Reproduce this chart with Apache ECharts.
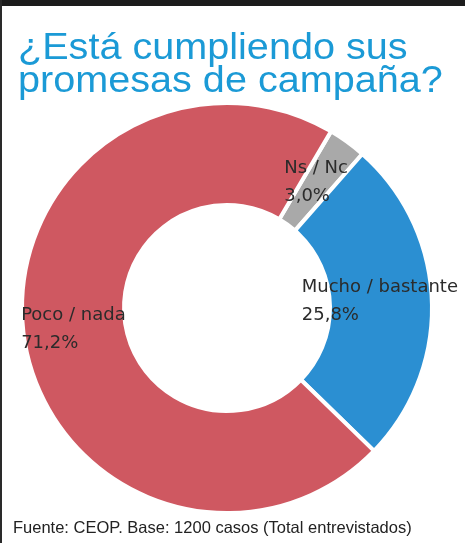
<!DOCTYPE html>
<html lang="es">
<head>
    <meta charset="utf-8">
    <script src="https://cdn.jsdelivr.net/npm/echarts@6/dist/echarts.min.js"></script>
    <style>
        html, body { margin: 0; padding: 0; background: #fff; }
        #chart { width: 470px; height: 543px; }
    </style>
</head>
<body>
<div id="chart"></div>
<script>
    // datos de la encuesta
    var categories = ['Ns / Nc', 'Mucho / bastante', 'Poco / nada'];
    var values = [3.0, 25.8, 71.2];
    var titleLines = ['¿Está cumpliendo sus', 'promesas de campaña?'];
    var sourceText = 'Fuente: CEOP. Base: 1200 casos (Total entrevistados)';

    var colors = ['#a9a9a9', '#2b8fd2', '#cf5861'];
    // pequeño ajuste de la posicion de cada etiqueta
    var labelOffsets = [[-3, 2], [-4, 0], [2, 0]];

    var pieData = [];
    for (var i = 0; i < categories.length; i++) {
        pieData.push({
            name: categories[i],
            value: values[i],
            itemStyle: { color: colors[i] },
            label: { offset: labelOffsets[i] }
        });
    }

    var chart = echarts.init(document.getElementById('chart'));
    var option = {
        backgroundColor: '#fff',
        animation: false,
        graphic: [
            { type: 'rect', shape: { x: 0, y: 0, width: 465, height: 6 }, style: { fill: '#1c1c1c' } },
            { type: 'rect', shape: { x: 0, y: 0, width: 2, height: 543 }, style: { fill: '#2a2a2a' } },
            {
                type: 'text', x: 18, y: 49, scaleX: 1.1,
                style: { text: titleLines[0], font: '36px "Liberation Sans"', fill: '#1b9ad6', verticalAlign: 'middle' }
            },
            {
                type: 'text', x: 18, y: 82, scaleX: 1.1,
                style: { text: titleLines[1], font: '36px "Liberation Sans"', fill: '#1b9ad6', verticalAlign: 'middle' }
            },
            {
                type: 'text', x: 13, y: 528,
                style: { text: sourceText, font: '16.5px "Liberation Sans"', fill: '#222', verticalAlign: 'middle' }
            }
        ],
        series: [
            {
                type: 'pie',
                center: [227, 308],
                radius: [103, 205],
                startAngle: 59.5,
                clockwise: true,
                avoidLabelOverlap: false,
                itemStyle: { borderColor: '#fff', borderWidth: 4 },
                label: {
                    show: true,
                    position: 'inside',
                    formatter: function (p) {
                        return '{t|' + p.name + '}\n{t|' + p.value.toFixed(1).replace('.', ',') + '%}';
                    },
                    rich: {
                        t: {
                            align: 'left',
                            fontFamily: 'DejaVu Sans',
                            fontSize: 18,
                            lineHeight: 28,
                            color: '#2b2b2b'
                        }
                    }
                },
                labelLine: { show: false },
                emphasis: { disabled: true },
                data: pieData
            }
        ]
    };
    chart.setOption(option);
</script>
</body>
</html>
